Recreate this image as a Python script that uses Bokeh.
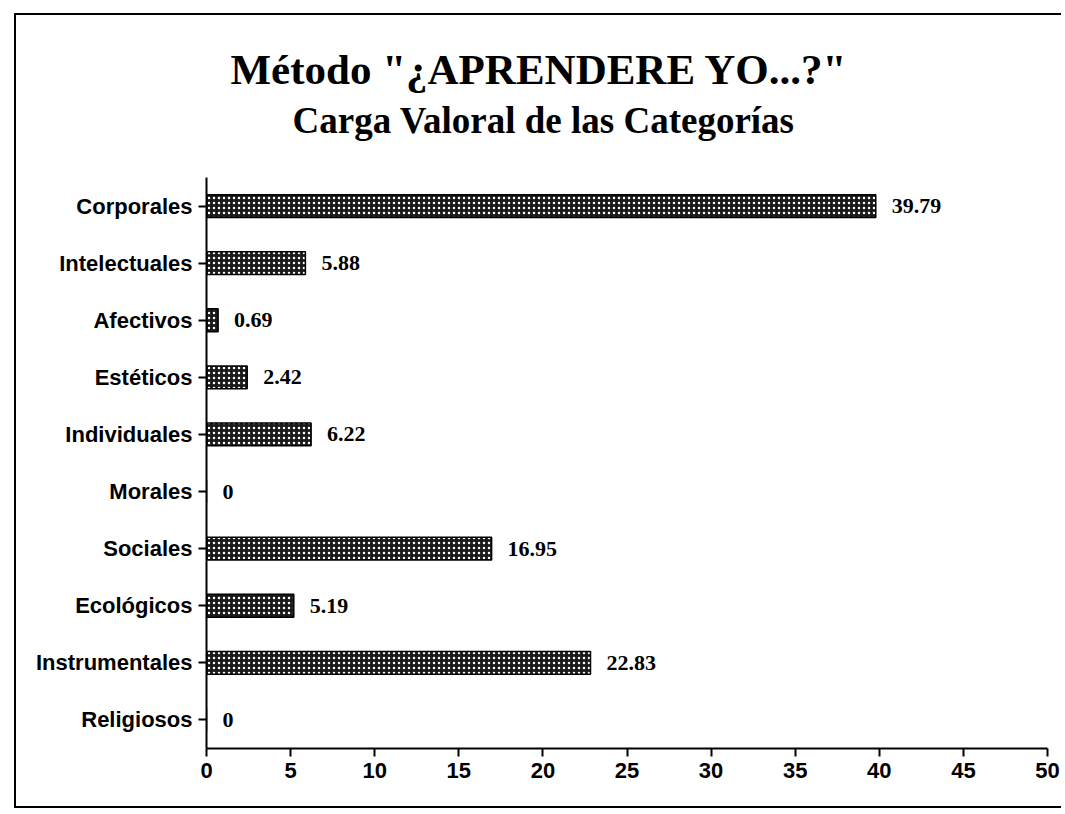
from bokeh.plotting import figure
from bokeh.models import ColumnDataSource, Range1d, FixedTicker, LabelSet, Title
from bokeh.embed import file_html
from bokeh.resources import INLINE

categories = ["Corporales", "Intelectuales", "Afectivos", "Estéticos", "Individuales",
              "Morales", "Sociales", "Ecológicos", "Instrumentales", "Religiosos"]
values = [39.79, 5.88, 0.69, 2.42, 6.22, 0, 16.95, 5.19, 22.83, 0]
value_labels = ["39.79", "5.88", "0.69", "2.42", "6.22", "0", "16.95", "5.19", "22.83", "0"]
x_ticks = [0, 5, 10, 15, 20, 25, 30, 35, 40, 45, 50]
title_text = 'Método "¿APRENDERE YO...?"'
subtitle_text = "Carga Valoral de las Categorías"

n = len(categories)
ypos = [n - 1 - i for i in range(n)]
source = ColumnDataSource(dict(y=ypos, v=values, lab=value_labels, cat=categories))

p = figure(width=1047, height=795, x_range=Range1d(0, 50), y_range=Range1d(-0.5, n - 0.5),
           output_backend="svg", toolbar_location=None, title=None,
           min_border_left=190, min_border_right=16, min_border_top=162, min_border_bottom=62)
p.margin = (13, 0, 0, 14)
p.styles = {"border-left": "2px solid black", "border-top": "2px solid black",
            "border-bottom": "2px solid black"}
p.outline_line_color = None
p.xgrid.visible = False
p.ygrid.visible = False
p.background_fill_color = "white"
p.border_fill_color = "white"

p.hbar(y="y", right="v", left=0, height=0.4, source=source,
       fill_color="#1a1a1a", hatch_pattern="dot", hatch_color="white",
       hatch_scale=5, hatch_weight=1.0, line_color="black", line_width=1.5)

p.add_layout(LabelSet(x="v", y="y", text="lab", source=source, x_offset=16,
                      text_baseline="middle", text_font="Liberation Serif",
                      text_font_style="bold", text_font_size="22px", text_color="black"))

for ax in (p.xaxis[0], p.yaxis[0]):
    ax.axis_line_width = 2
    ax.axis_line_color = "black"
    ax.major_tick_line_width = 2
    ax.major_tick_line_color = "black"
    ax.major_tick_out = 8
    ax.major_tick_in = 0
    ax.minor_tick_line_color = None
    ax.major_label_text_font = "Liberation Sans"
    ax.major_label_text_font_style = "bold"
    ax.major_label_text_font_size = "22px"
    ax.major_label_text_color = "black"
    ax.major_label_standoff = 6

p.xaxis.ticker = FixedTicker(ticks=x_ticks)
p.yaxis.ticker = FixedTicker(ticks=ypos)
p.yaxis.major_label_overrides = {y: c for y, c in zip(ypos, categories)}

# spacer between frame and subtitle
p.add_layout(Title(text=" ", standoff=31, text_font_size="1px"), "above")
p.add_layout(Title(text=subtitle_text, align="left", offset=86, standoff=6,
                   text_font="Liberation Serif", text_font_style="bold",
                   text_font_size="37px", text_color="black"), "above")
p.add_layout(Title(text=title_text, align="left", offset=24, standoff=4,
                   text_font="Liberation Serif", text_font_style="bold",
                   text_font_size="43px", text_color="black"), "above")

open("out.html", "w").write(file_html(p, INLINE))
